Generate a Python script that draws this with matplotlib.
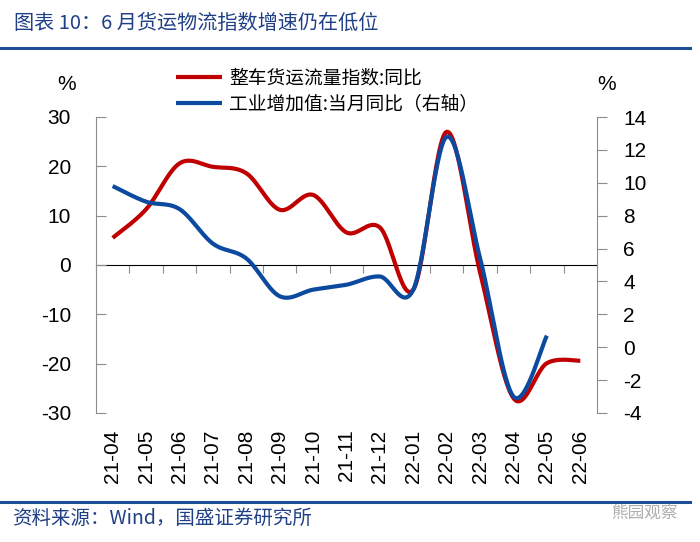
import numpy as np
import matplotlib.pyplot as plt
from matplotlib.lines import Line2D

plt.rcParams['font.family'] = ['Noto Sans CJK SC', 'DejaVu Sans']
plt.rcParams['axes.unicode_minus'] = False

months = ["21-04", "21-05", "21-06", "21-07", "21-08", "21-09", "21-10", "21-11",
          "21-12", "22-01", "22-02", "22-03", "22-04", "22-05", "22-06"]
# 整车货运流量指数:同比 (left axis, %)
truck_yoy = [5.5, 11.3, 20.6, 19.9, 18.6, 11.2, 14.2, 6.6, 7.6, -5.0, 27.0, -1.5, -27.0, -19.9, -19.4]
# 工业增加值:当月同比 (right axis, %)
iva_yoy = [9.8, 8.85, 8.4, 6.3, 5.4, 3.1, 3.5, 3.8, 4.3, 3.5, 12.8, 5.4, -3.0, 0.7]

RED = "#c00000"
BLUE = "#0b4a9e"
TXT_BLUE = "#1f3f86"
GRAY = "#8c8c8c"


def smooth(xs, ys, n=30):
    # excel-like smoothed line (catmull-rom bezier)
    xs = np.asarray(xs, float)
    ys = np.asarray(ys, float)
    p = np.column_stack([xs, ys])
    out = []
    for i in range(len(p) - 1):
        p0 = p[i - 1] if i > 0 else p[i]
        p3 = p[i + 2] if i + 2 < len(p) else p[i + 1]
        p1, p2 = p[i], p[i + 1]
        c1 = p1 + (p2 - p0) / 6
        c2 = p2 - (p3 - p1) / 6
        t = np.linspace(0, 1, n)[:, None]
        seg = ((1 - t) ** 3) * p1 + 3 * ((1 - t) ** 2) * t * c1 + 3 * (1 - t) * t ** 2 * c2 + t ** 3 * p2
        out.append(seg if i == 0 else seg[1:])
    s = np.vstack(out)
    return s[:, 0], s[:, 1]


fig = plt.figure(figsize=(7, 5.42), dpi=100)
ax = fig.add_axes([96 / 700, 1 - 413 / 542, 501 / 700, 296 / 542])
ax2 = ax.twinx()

x = np.arange(len(months))
sx, sy = smooth(x, truck_yoy)
l1, = ax.plot(sx, sy, color=RED, lw=3.0, solid_capstyle='butt',
              label="整车货运流量指数:同比")
bx, by = smooth(x[:len(iva_yoy)], iva_yoy)
l2, = ax2.plot(bx, by, color=BLUE, lw=3.0, solid_capstyle='butt',
               label="工业增加值:当月同比（右轴）")

ax.set_xlim(-0.5, len(months) - 0.5)
ax.set_ylim(-30, 30)
ax.set_yticks(range(-30, 31, 10))
ax2.set_ylim(-4, 14)
ax2.set_yticks(range(-4, 15, 2))

for a in (ax, ax2):
    for s in a.spines.values():
        s.set_visible(False)
    a.set_facecolor('none')

ax.spines['left'].set_visible(True)
ax.spines['left'].set_color(GRAY)
ax2.spines['right'].set_visible(True)
ax2.spines['right'].set_color(GRAY)

ax.tick_params(axis='y', direction='in', length=7, color=GRAY, pad=18,
               labelsize=15, labelfontfamily='Liberation Sans')
ax2.tick_params(axis='y', direction='out', length=7, color=GRAY, pad=12,
                labelsize=15, labelfontfamily='Liberation Sans')

# category labels at the bottom
ax.set_xticks(x)
ax.set_xticklabels(months, rotation=90, fontsize=15, family='Liberation Sans')
ax.tick_params(axis='x', length=0, pad=12)

# zero line with ticks between categories
zero = ax.secondary_xaxis(0.5)
zero.spines['bottom'].set_color("#7f7f7f")
zero.set_xticks(np.arange(0.5, len(months) - 0.5, 1))
zero.set_xticklabels([])
zero.tick_params(axis='x', direction='in', length=6, color=GRAY)

fig.text(67 / 700, 1 - 85 / 542, "%", fontsize=15, family='Liberation Sans', ha='center', va='center')
fig.text(607 / 700, 1 - 85 / 542, "%", fontsize=15, family='Liberation Sans', ha='center', va='center')

fig.legend(handles=[l1, l2], loc='upper left', bbox_to_anchor=(168 / 700, 1 - 60 / 542),
           frameon=False, fontsize=13.5, handlelength=2.5, handletextpad=0.35, labelspacing=0.25,
           borderaxespad=0)

# title and source
fig.text(14 / 700, 1 - 23 / 542, "图表 10：6 月货运物流指数增速仍在低位", fontsize=14.5,
         color=TXT_BLUE, style='italic', ha='left', va='center')
fig.add_artist(Line2D([0, 690 / 700], [1 - 48 / 542] * 2, color="#1f4e99", lw=2.2,
                      transform=fig.transFigure))
fig.add_artist(Line2D([0, 690 / 700], [1 - 502 / 542] * 2, color="#1f4e99", lw=2.2,
                      transform=fig.transFigure))
fig.text(12 / 700, 1 - 518 / 542, "资料来源：Wind，国盛证券研究所", fontsize=14,
         color=TXT_BLUE, style='italic', ha='left', va='center')
fig.text(678 / 700, 1 - 513 / 542, "熊园观察", fontsize=12, color="#9a9a9a", alpha=0.8,
         ha='right', va='center')

fig.savefig("out.png", dpi=100)
